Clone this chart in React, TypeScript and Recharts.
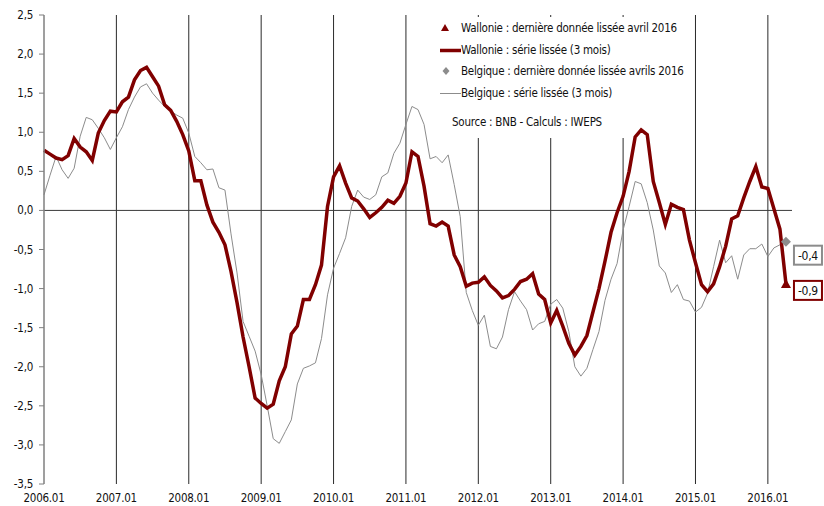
import { ComposedChart, Line, XAxis, YAxis, ReferenceLine, Legend } from "recharts";

const FONT = "'Liberation Sans Narrow', 'Arial Narrow', 'DejaVu Sans Condensed', sans-serif";

const YEARS = ["2006.01", "2007.01", "2008.01", "2009.01", "2010.01", "2011.01", "2012.01", "2013.01", "2014.01", "2015.01", "2016.01"];
const YEAR_TICKS = YEARS.map((_, k) => k * 12);

// monthly categories 2006.01 .. 2016.04
const MONTHS: string[] = [];
for (let y = 2006; y <= 2016; y++) {
  for (let m = 1; m <= 12; m++) {
    if (y === 2016 && m > 4) break;
    MONTHS.push(`${y}.${String(m).padStart(2, "0")}`);
  }
}

const WALLONIE = [
  0.77, 0.72, 0.67, 0.65, 0.7, 0.92, 0.81, 0.75, 0.64, 0.99, 1.15, 1.27,
  1.26, 1.39, 1.45, 1.67, 1.79, 1.83, 1.71, 1.59, 1.35, 1.28, 1.14, 0.97,
  0.76, 0.38, 0.38, 0.07, -0.15, -0.28, -0.44, -0.78, -1.18, -1.62, -2.0, -2.4,
  -2.47, -2.53, -2.48, -2.18, -2.0, -1.58, -1.48, -1.14, -1.14, -0.95, -0.7, 0.05,
  0.43, 0.57, 0.35, 0.16, 0.12, 0.02, -0.09, -0.03, 0.04, 0.13, 0.09, 0.18,
  0.35, 0.75, 0.69, 0.31, -0.17, -0.2, -0.15, -0.2, -0.57, -0.72, -0.97, -0.93,
  -0.92, -0.85, -0.96, -1.03, -1.12, -1.09, -1.01, -0.91, -0.88, -0.81, -1.07, -1.14,
  -1.44, -1.28, -1.48, -1.7, -1.85, -1.74, -1.6, -1.3, -1.0, -0.65, -0.28, -0.03,
  0.18, 0.5, 0.94, 1.03, 0.97, 0.37, 0.1, -0.18, 0.08, 0.04, 0.01, -0.38,
  -0.67, -0.95, -1.04, -0.94, -0.72, -0.46, -0.11, -0.07, 0.16, 0.37, 0.56, 0.3,
  0.28, 0.02, -0.24, -0.94,
];

const BELGIQUE = [
  0.2, 0.45, 0.69, 0.52, 0.41, 0.54, 0.95, 1.19, 1.16, 1.05, 0.93, 0.78,
  0.93, 1.07, 1.29, 1.45, 1.58, 1.62, 1.5, 1.41, 1.33, 1.27, 1.22, 1.18,
  0.99, 0.69, 0.61, 0.52, 0.53, 0.29, 0.26, -0.3, -0.8, -1.42, -1.61, -1.8,
  -2.1, -2.5, -2.92, -2.98, -2.83, -2.68, -2.22, -2.02, -1.99, -1.95, -1.64, -1.08,
  -0.74, -0.55, -0.35, 0.05, 0.26, 0.17, 0.14, 0.2, 0.43, 0.48, 0.73, 0.86,
  1.1, 1.33, 1.29, 1.1, 0.66, 0.69, 0.61, 0.71, 0.33, -0.08, -1.05, -1.28,
  -1.47, -1.34, -1.74, -1.77, -1.62, -1.27, -1.04, -1.16, -1.27, -1.53, -1.45, -1.42,
  -1.2, -1.14, -1.25, -1.55, -2.0, -2.12, -2.02, -1.78, -1.55, -1.15, -0.88, -0.68,
  -0.25, 0.05, 0.37, 0.34, 0.1, -0.25, -0.71, -0.8, -1.05, -0.95, -1.14, -1.16,
  -1.3, -1.24, -1.06, -0.72, -0.38, -0.67, -0.58, -0.88, -0.57, -0.49, -0.49, -0.43,
  -0.59, -0.48, -0.44, -0.4,
];

const Y_TICKS = [2.5, 2, 1.5, 1, 0.5, 0, -0.5, -1, -1.5, -2, -2.5, -3, -3.5];

const RED = "#800000";
const GREY = "#8c8c8c";

const LAST = WALLONIE.length - 1;
const DATA = MONTHS.map((month, i) => ({
  i,
  month,
  wal: WALLONIE[i],
  bel: BELGIQUE[i],
  walLast: i === LAST ? WALLONIE[i] : null,
  belLast: i === LAST ? BELGIQUE[i] : null,
}));

const fmt = (v: number) => v.toFixed(1).replace(".", ",");

function endMarker(kind: "tri" | "dia", color: string, boxTop: number) {
  return (props: any) => {
    const { cx, cy, index, value } = props;
    if (value == null || cx == null || cy == null) return <g key={index} />;
    const shape =
      kind === "tri" ? (
        <polygon points={`${cx},${cy - 5} ${cx - 5},${cy + 4} ${cx + 5},${cy + 4}`} fill={color} />
      ) : (
        <polygon points={`${cx},${cy - 5} ${cx + 5},${cy} ${cx},${cy + 5} ${cx - 5},${cy}`} fill={color} />
      );
    return (
      <g key={index}>
        {shape}
        <rect x={cx + 8} y={cy + boxTop} width={28} height={19} fill="#fff" stroke={color} strokeWidth={2} />
        <text x={cx + 22} y={cy + boxTop + 10} textAnchor="middle" dominantBaseline="central" fontSize={12} fill="#111">
          {fmt(value)}
        </text>
      </g>
    );
  };
}

const LEGEND = [
  { label: "Wallonie : dernière donnée lissée avril 2016", icon: "tri" },
  { label: "Wallonie : série lissée (3 mois)", icon: "thick" },
  { label: "Belgique : dernière donnée lissée avrils 2016", icon: "dia" },
  { label: "Belgique : série lissée (3 mois)", icon: "thin" },
];

// white box hides the gridlines behind the legend; text runs past its right edge
function LegendBox() {
  return (
    <div style={{ position: "relative", width: 192, height: 121, background: "#fff", fontSize: 11.5, color: "#111", overflow: "visible" }}>
      {LEGEND.map((item, k) => (
        <div key={item.label} style={{ position: "absolute", left: 0, top: 3 + k * 21.7, height: 16, display: "flex", alignItems: "center" }}>
          <svg width={23} height={16} style={{ display: "block" }}>
            {item.icon === "tri" && <polygon points="7,4 3,11 11,11" fill={RED} />}
            {item.icon === "dia" && <polygon points="8,4 11.5,8 8,12 4.5,8" fill={GREY} />}
            {item.icon === "thick" && <line x1={2} y1={8.5} x2={23} y2={8.5} stroke={RED} strokeWidth={3.5} />}
            {item.icon === "thin" && <line x1={2} y1={8.5} x2={23} y2={8.5} stroke={GREY} strokeWidth={1} />}
          </svg>
          <span style={{ whiteSpace: "nowrap" }}>{item.label}</span>
        </div>
      ))}
      <div style={{ position: "absolute", left: 14, top: 97, height: 16, lineHeight: "16px", whiteSpace: "nowrap" }}>
        Source : BNB - Calculs : IWEPS
      </div>
    </div>
  );
}

export default function App() {
  return (
    <div style={{ position: "absolute", left: 0, top: 0, width: 824, height: 506, background: "#fff", fontFamily: FONT, letterSpacing: "-0.25px" }}>
      <ComposedChart width={824} height={506} data={DATA} margin={{ top: 15, right: 32, left: 0, bottom: 0 }}>
        <XAxis
          dataKey="i"
          type="number"
          domain={[0, 124]}
          ticks={YEAR_TICKS}
          tickFormatter={(v: number) => YEARS[v / 12]}
          axisLine={false}
          tickLine={false}
          height={22}
          tickMargin={4}
          tick={{ fill: "#111", fontSize: 11.5 }}
        />
        <YAxis
          domain={[-3.5, 2.5]}
          ticks={Y_TICKS}
          tickFormatter={fmt}
          width={44}
          tickSize={5}
          tickMargin={6}
          axisLine={{ stroke: "#7f7f7f", strokeWidth: 1.5 }}
          tickLine={{ stroke: "#7f7f7f" }}
          tick={{ fill: "#111", fontSize: 11.5 }}
          interval={0}
        />
        {YEAR_TICKS.slice(1).map((t) => (
          <ReferenceLine key={t} x={t} stroke="#2a2a2a" strokeWidth={1} />
        ))}
        <ReferenceLine y={0} stroke="#3a3a3a" strokeWidth={1} />
        <Line type="linear" dataKey="bel" stroke={GREY} strokeWidth={1} dot={false} isAnimationActive={false} />
        <Line type="linear" dataKey="wal" stroke={RED} strokeWidth={3.5} dot={false} isAnimationActive={false} />
        <Line dataKey="belLast" stroke="none" dot={endMarker("dia", GREY, 4)} activeDot={false} isAnimationActive={false} />
        <Line dataKey="walLast" stroke="none" dot={endMarker("tri", RED, -3)} activeDot={false} isAnimationActive={false} />
        <Legend
          layout="horizontal"
          verticalAlign="middle"
          align="center"
          content={() => <LegendBox />}
          wrapperStyle={{ left: 438, top: 17, width: 192, height: 121 }}
        />
      </ComposedChart>
    </div>
  );
}
